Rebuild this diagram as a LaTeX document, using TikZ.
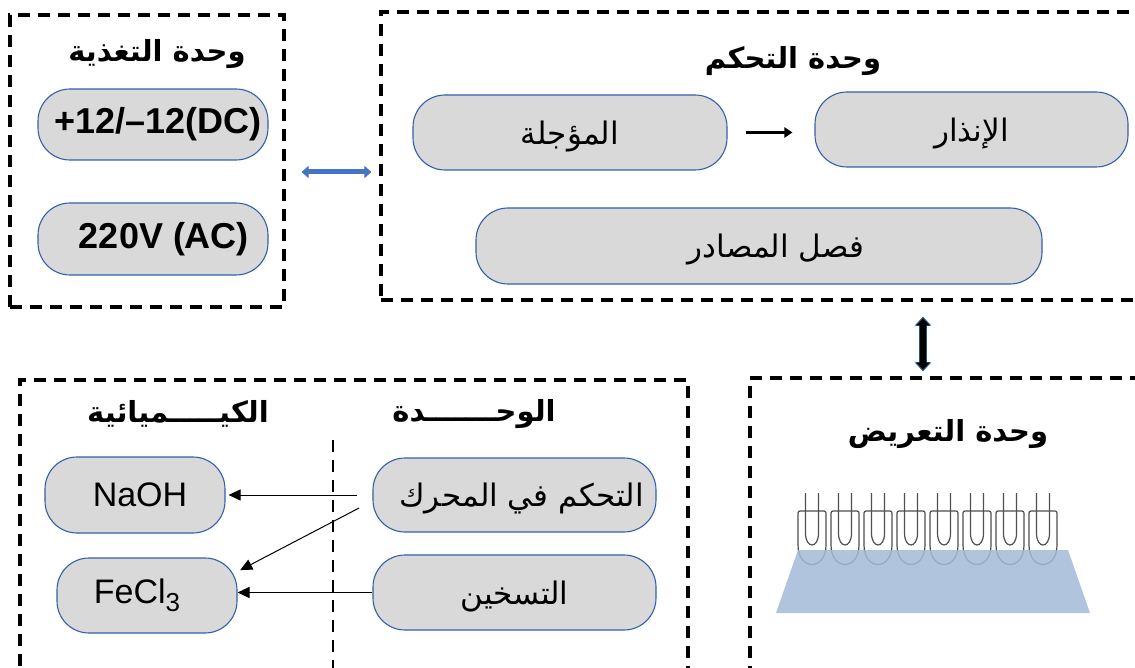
\documentclass[tikz,border=0pt]{standalone}
\usepackage{fontspec}
\setmainfont{Liberation Sans}
\newfontfamily\arabicfont[Script=Arabic]{DejaVu Sans}
\TeXXeTstate=1
\usetikzlibrary{arrows.meta,calc}

\definecolor{pillfill}{HTML}{D9D9D9}
\definecolor{pilledge}{HTML}{3360A8}
\definecolor{arrowblue}{HTML}{4472C4}
\definecolor{arrowedge}{HTML}{2F528F}
\definecolor{liquid}{HTML}{A3BAD8}
\definecolor{tubegray}{HTML}{4F4F4F}

\newcommand{\artext}[1]{\raisebox{-4pt}[\height][\depth]{\beginR#1\endR}}

\begin{document}
\begin{tikzpicture}[x=1pt, y=-1pt, >=stealth,
    unitbox/.style 2 args={draw, line width=3.2pt, dash pattern=on 12pt off 8pt,
        minimum width=#1, minimum height=#2, inner sep=0pt},
    pill/.style 2 args={draw=pilledge, fill=pillfill, line width=1.1pt, rounded corners=32pt,
        minimum width=#1, minimum height=#2, inner sep=0pt},
    title/.style={font=\arabicfont\bfseries\fontsize{29}{33}\selectfont},
    artxt/.style={font=\arabicfont\fontsize{31}{35}\selectfont},
    latin/.style={font=\fontsize{34}{40}\selectfont},
    boldlatin/.style={font=\fontsize{36}{40}\selectfont\bfseries},
    chemarrow/.style={-{Triangle[length=12pt,width=11pt]}, line width=1pt},
]
\useasboundingbox (0,0) rectangle (1135,668);

% dashed unit frames
\node[unitbox={274pt}{292pt}] (power) at (147,161) {};
\node[unitbox={770pt}{288pt}] (ctrl) at (766,156) {};
\node[unitbox={400pt}{312pt}] (exp) at (950,534) {};
\node[unitbox={668pt}{310pt}] (chem) at (354,535) {};
\draw[line width=2.4pt, dash pattern=on 12pt off 8pt] (333,440) -- (333,690);

% power unit
\node[title] (powertitle) at (157,50) {\artext{وحدة التغذية}};
\node[pill={230pt}{71pt}, boldlatin] (dc) at (153,124.5) {\hspace*{10pt}+12/--12(DC)};
\node[pill={230pt}{72pt}, boldlatin] (ac) at (153,239) {\hspace*{22pt}220V (AC)};

% control unit
\node[title] (ctrltitle) at (793,57) {\artext{وحدة التحكم}};
\node[pill={314pt}{75pt}, artxt] (delay) at (570,132.5) {\artext{المؤجلة}};
\node[pill={313pt}{75pt}, artxt] (alarm) at (971.5,129.5) {\artext{الإنذار}};
\node[pill={566pt}{76pt}, artxt] (sep) at (759,246) {\hspace*{34pt}\artext{فصل المصادر}};
\draw[-{Triangle[length=8pt,width=10pt]}, line width=2.6pt, shorten <=18pt, shorten >=22pt]
    (delay.east) -- (delay.east -| alarm.west);

% exposure unit
\node[title] (exptitle) at (948,430) {\artext{وحدة التعريض}};
\foreach \i in {0,...,7}{
  \pgfmathsetmacro{\cx}{812+33*\i}
  \draw[tubegray, line width=1.2pt, rounded corners=2pt]
      (\cx-14,545) -- (\cx-14,511) -- (\cx+14,511) -- (\cx+14,545);
  \draw[tubegray, line width=1.2pt]
      (\cx+14,545) .. controls (\cx+14,571) and (\cx-14,571) .. (\cx-14,545);
  \draw[tubegray, line width=1.2pt]
      (\cx-6.5,493) -- (\cx-6.5,533) .. controls (\cx-6.5,549) and (\cx+6.5,549) .. (\cx+6.5,533) -- (\cx+6.5,493);
}
\fill[liquid, opacity=0.85] (798,550) -- (1068,550) -- (1090,613) -- (776,613) -- cycle;

% chemical unit
\node[title] (chemtitle) at (178,410) {\artext{الكيـــــميائية}};
\node[title] (unittitle) at (474,410) {\artext{الوحـــــــدة}};
\node[pill={180pt}{76pt}, latin] (naoh) at (135,495) {\hspace*{10pt}NaOH};
\node[pill={180pt}{75pt}, latin] (fecl) at (147,595.5) {FeCl\raisebox{-0.25em}{\fontsize{26}{26}\selectfont 3}\hspace*{20pt}};
\node[pill={283pt}{74pt}, artxt] (motor) at (514.5,495) {\hspace*{14pt}\artext{التحكم في المحرك}};
\node[pill={283pt}{75pt}, artxt] (heat) at (514.5,592.5) {\artext{التسخين}};
\draw[chemarrow, shorten <=15pt, shorten >=3pt] (motor.west) -- (motor.west -| naoh.east);
\draw[chemarrow, shorten <=15pt, shorten >=3pt] ([yshift=-6pt]motor.west) -- ([yshift=24pt]fecl.east);
\draw[chemarrow] (heat.west) -- (heat.west -| fecl.east);

% links between units
\draw[arrowblue, line width=5pt, {Triangle[length=7pt,width=12pt]}-{Triangle[length=7pt,width=12pt]}]
    ($(power.east)+(16,11)$) -- ($(power.east -| ctrl.west)+(-8,11)$);
\draw[arrowedge, line width=8pt, {Triangle[length=9pt,width=16pt]}-{Triangle[length=9pt,width=16pt]}]
    ($(ctrl.south -| exp.north)+(-27,15)$) -- ($(exp.north)+(-27,-5)$);
\draw[black, line width=5.5pt, {Triangle[length=7pt,width=13pt]}-{Triangle[length=7pt,width=13pt]}]
    ($(ctrl.south -| exp.north)+(-27,17)$) -- ($(exp.north)+(-27,-7)$);
\end{tikzpicture}
\end{document}
